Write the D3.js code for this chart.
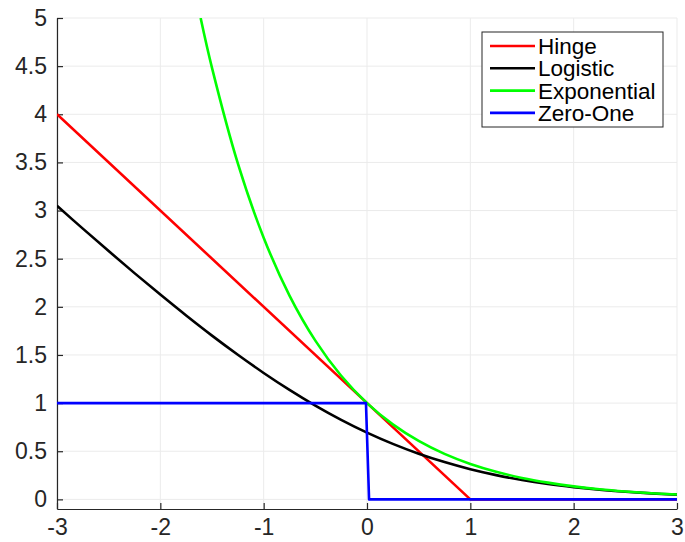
<!DOCTYPE html>
<html>
<head>
<meta charset="utf-8">
<script src="https://cdn.jsdelivr.net/npm/d3@7"></script>
<style>
	body { margin: 0; background: #fff; }
	text { font-family: "Liberation Sans", Arial, Helvetica, sans-serif; fill: #262626; }
</style>
</head>
<body>
<div id="chart"></div>
<script>
//--------------------------------------------------
// data
//--------------------------------------------------

var xTicks = [-3, -2, -1, 0, 1, 2, 3]
var yTicks = [0, 0.5, 1, 1.5, 2, 2.5, 3, 3.5, 4, 4.5, 5]

var names = ["Hinge", "Logistic", "Exponential", "Zero-One"]

var hingeX = [-3, 1, 3]
var hingeY = [4, 0, 0]

var logX = [-3, -2.75, -2.5, -2.25, -2, -1.75, -1.5, -1.25, -1, -0.75, -0.5, -0.25, 0, 0.25, 0.5, 0.75, 1, 1.25, 1.5, 1.75, 2, 2.25, 2.5, 2.75, 3]
var logY = [3.049, 2.812, 2.579, 2.350, 2.127, 1.910, 1.701, 1.502, 1.313, 1.137, 0.974, 0.826, 0.693, 0.576, 0.474, 0.387, 0.313, 0.252, 0.201, 0.160, 0.127, 0.100, 0.079, 0.062, 0.049]

var expX = [-1.61, -1.5, -1.25, -1, -0.75, -0.5, -0.25, 0, 0.25, 0.5, 0.75, 1, 1.25, 1.5, 1.75, 2, 2.25, 2.5, 2.75, 3]
var expY = [5.0, 4.482, 3.490, 2.718, 2.117, 1.649, 1.284, 1, 0.779, 0.607, 0.472, 0.368, 0.287, 0.223, 0.174, 0.135, 0.105, 0.082, 0.064, 0.050]

var zeroX = [-3, -0.01, 0.02, 3]
var zeroY = [1, 1, 0, 0]

var colors = ["#ff0000", "#000000", "#00ff00", "#0000ff"]

//--------------------------------------------------
// layout
//--------------------------------------------------

var W = 685, H = 542
var margin = {top: 18, right: 8, bottom: 33, left: 57}
var width = W - margin.left - margin.right,
	height = H - margin.top - margin.bottom

var x = d3.scaleLinear().domain([-3, 3]).range([0, width])
var y = d3.scaleLinear().domain([-0.1, 5]).range([height, 0])

var svg = d3.select("#chart").append("svg")
	.attr("width", W)
	.attr("height", H)

var g = svg.append("g")
	.attr("transform", "translate(" + margin.left + "," + margin.top + ")")

// grid
g.append("g").selectAll("line").data(xTicks).enter().append("line")
	.attr("x1", function(d) { return x(d) }).attr("x2", function(d) { return x(d) })
	.attr("y1", 0).attr("y2", height)
	.style("stroke", "#ebebeb").style("stroke-width", 1)

g.append("g").selectAll("line").data(yTicks).enter().append("line")
	.attr("x1", 0).attr("x2", width)
	.attr("y1", function(d) { return y(d) }).attr("y2", function(d) { return y(d) })
	.style("stroke", "#ebebeb").style("stroke-width", 1)

// axes (ticks pointing inside), plain hyphen for negatives
var fmt = function(d) { return String(d) }

var xAxis = g.append("g")
	.attr("transform", "translate(0," + height + ")")
	.call(d3.axisBottom(x).tickValues(xTicks).tickSizeInner(-6).tickSizeOuter(0).tickPadding(14).tickFormat(fmt))

var yAxis = g.append("g")
	.call(d3.axisLeft(y).tickValues(yTicks).tickSizeInner(-6).tickSizeOuter(0).tickPadding(10).tickFormat(fmt))

svg.selectAll(".domain, .tick line").style("stroke", "#262626").style("stroke-width", 1.2)
svg.selectAll(".tick text").style("font-size", "23px").style("fill", "#262626")
	.style("font-family", "'Liberation Sans', Arial, sans-serif")
xAxis.selectAll(".tick text").attr("dy", "0.71em").attr("y", 10)

// clip
g.append("clipPath").attr("id", "clip").append("rect")
	.attr("x", 0).attr("y", 0).attr("width", width).attr("height", height)

//--------------------------------------------------
// lines
//--------------------------------------------------

var series = [
	{xs: hingeX, ys: hingeY, curve: d3.curveLinear},
	{xs: logX, ys: logY, curve: d3.curveCatmullRom},
	{xs: expX, ys: expY, curve: d3.curveCatmullRom},
	{xs: zeroX, ys: zeroY, curve: d3.curveLinear}
]

var line = d3.line()
	.x(function(d) { return x(d[0]) })
	.y(function(d) { return y(d[1]) })

var lines = g.append("g").attr("clip-path", "url(#clip)")

series.forEach(function(s, i) {
	var pts = s.xs.map(function(v, j) { return [v, s.ys[j]] })
	lines.append("path")
		.datum(pts)
		.attr("d", line.curve(s.curve))
		.style("fill", "none")
		.style("stroke", colors[i])
		.style("stroke-width", 2.6)
		.style("stroke-linejoin", "round")
})

//--------------------------------------------------
// legend
//--------------------------------------------------

var legend = svg.append("g").attr("transform", "translate(482,32)")

legend.append("rect")
	.attr("width", 181).attr("height", 95)
	.style("fill", "#fff").style("stroke", "#262626").style("stroke-width", 1)

var item = legend.selectAll("g.item").data(names).enter().append("g")
	.attr("class", "item")
	.attr("transform", function(d, i) { return "translate(0," + (14 + i * 22.3) + ")" })

item.append("line")
	.attr("x1", 8).attr("x2", 53)
	.style("stroke", function(d, i) { return colors[i] })
	.style("stroke-width", 2.6)

item.append("text")
	.attr("x", 56).attr("dy", "0.36em")
	.style("font-size", "22.5px")
	.style("fill", "#000")
	.text(function(d) { return d })
</script>
</body>
</html>
